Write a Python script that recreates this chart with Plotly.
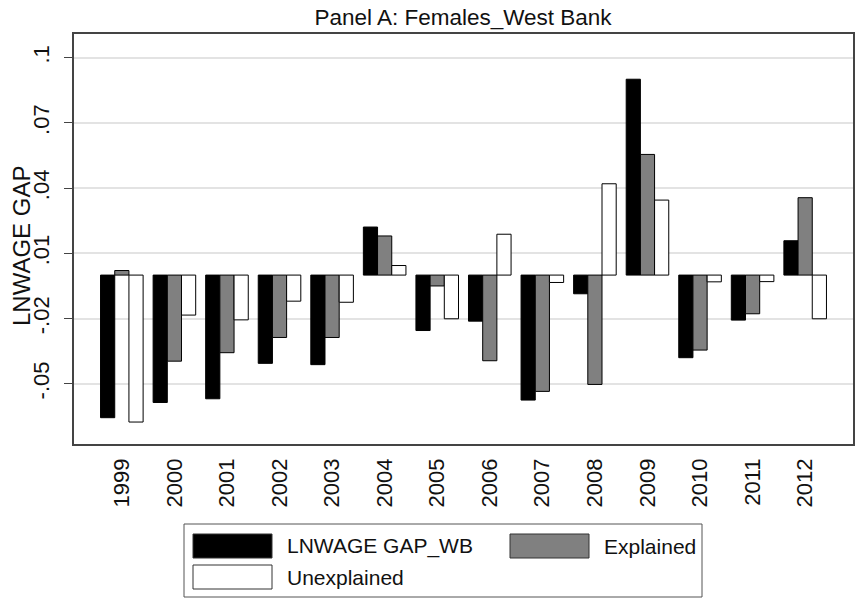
import plotly.graph_objects as go

years = ["1999", "2000", "2001", "2002", "2003", "2004", "2005",
         "2006", "2007", "2008", "2009", "2010", "2011", "2012"]
lnwage_gap = [-0.0656, -0.0586, -0.0569, -0.0406, -0.0412, 0.0221, -0.0255,
              -0.0212, -0.0575, -0.0086, 0.0901, -0.0380, -0.0207, 0.0158]
explained = [0.0021, -0.0396, -0.0357, -0.0287, -0.0287, 0.0180, -0.0050,
             -0.0394, -0.0535, -0.0503, 0.0555, -0.0345, -0.0178, 0.0356]
unexplained = [-0.0676, -0.0184, -0.0206, -0.0120, -0.0125, 0.0044, -0.0201,
               0.0188, -0.0034, 0.0420, 0.0345, -0.0031, -0.0030, -0.0201]
series_names = ["LNWAGE GAP_WB", "Explained", "Unexplained"]
y_tickvals = [-0.05, -0.02, 0.01, 0.04, 0.07, 0.1]
y_ticktext = ["-.05", "-.02", ".01", ".04", ".07", ".1"]

W, H = 855, 599
L, R, T, B = 74, 853, 34, 444  # plot frame in page pixels
FONT = "Arial, Liberation Sans, sans-serif"
COLORS = ["#000000", "#808080", "#ffffff"]


def px(x):
    return (x - L) / (R - L)


def py(y):
    return (B - y) / (B - T)


fig = go.Figure()
for name, vals, col in zip(series_names, [lnwage_gap, explained, unexplained], COLORS):
    fig.add_trace(go.Bar(x=years, y=vals, name=name, marker_color=col,
                         marker_line=dict(color="#000000", width=1),
                         showlegend=False))

# hand-drawn Stata style legend (wide swatches)
shapes = [dict(type="rect", xref="paper", yref="paper",
               x0=px(184), x1=px(702), y0=py(597), y1=py(524),
               line=dict(color="#555555", width=1), fillcolor="rgba(0,0,0,0)")]
annos = []
slots = [(193, 546), (510, 546), (193, 577)]
for (sx, sy), name, col in zip(slots, series_names, COLORS):
    shapes.append(dict(type="rect", xref="paper", yref="paper",
                       x0=px(sx), x1=px(sx + 79), y0=py(sy + 12), y1=py(sy - 12),
                       line=dict(color="#333333", width=1), fillcolor=col))
    annos.append(dict(xref="paper", yref="paper", x=px(sx + 92), y=py(sy),
                      xanchor="left", yanchor="middle", showarrow=False,
                      text=name, font=dict(size=21, color="#111111", family=FONT)))

# y axis title, placed by hand so it clears the rotated tick labels
annos.append(dict(xref="paper", yref="paper", x=px(21), y=py(246),
                  xanchor="center", yanchor="middle", showarrow=False,
                  textangle=-90, text="LNWAGE GAP",
                  font=dict(size=24, color="#111111", family=FONT)))

fig.update_layout(
    width=W, height=H, barmode="group", bargap=0.19, bargroupgap=0,
    margin=dict(l=L, r=W - R, t=T, b=H - B, autoexpand=False),
    paper_bgcolor="white", plot_bgcolor="white",
    font=dict(family=FONT, color="#111111"),
    title=dict(text="Panel A: Females_West Bank", x=px(463), xref="paper",
               xanchor="center", y=1 - 17 / H, yref="container",
               yanchor="middle", font=dict(size=22.5, color="#111111")),
    xaxis=dict(type="category", range=[-0.91, 13.91], tickangle=-90,
               tickfont=dict(size=22), ticks="", showgrid=False,
               showline=True, mirror=True, linecolor="#444444", linewidth=1.5,
               ticklabelstandoff=4),
    yaxis=dict(range=[-0.0777, 0.1109], tickvals=y_tickvals, ticktext=y_ticktext,
               tickangle=-90, tickfont=dict(size=22), ticks="outside", ticklen=8,
               tickcolor="#444444", showgrid=True, gridcolor="#e3e3e3", gridwidth=1.5,
               zeroline=False, showline=True, mirror=True, linecolor="#444444",
               linewidth=1.5, ticklabelstandoff=6),
    shapes=shapes, annotations=annos,
)

# drop the default 8px body margin so the figure fills the window
fig.write_html("out.html", config={"displayModeBar": False},
               post_script="document.body.style.margin='0px';")
